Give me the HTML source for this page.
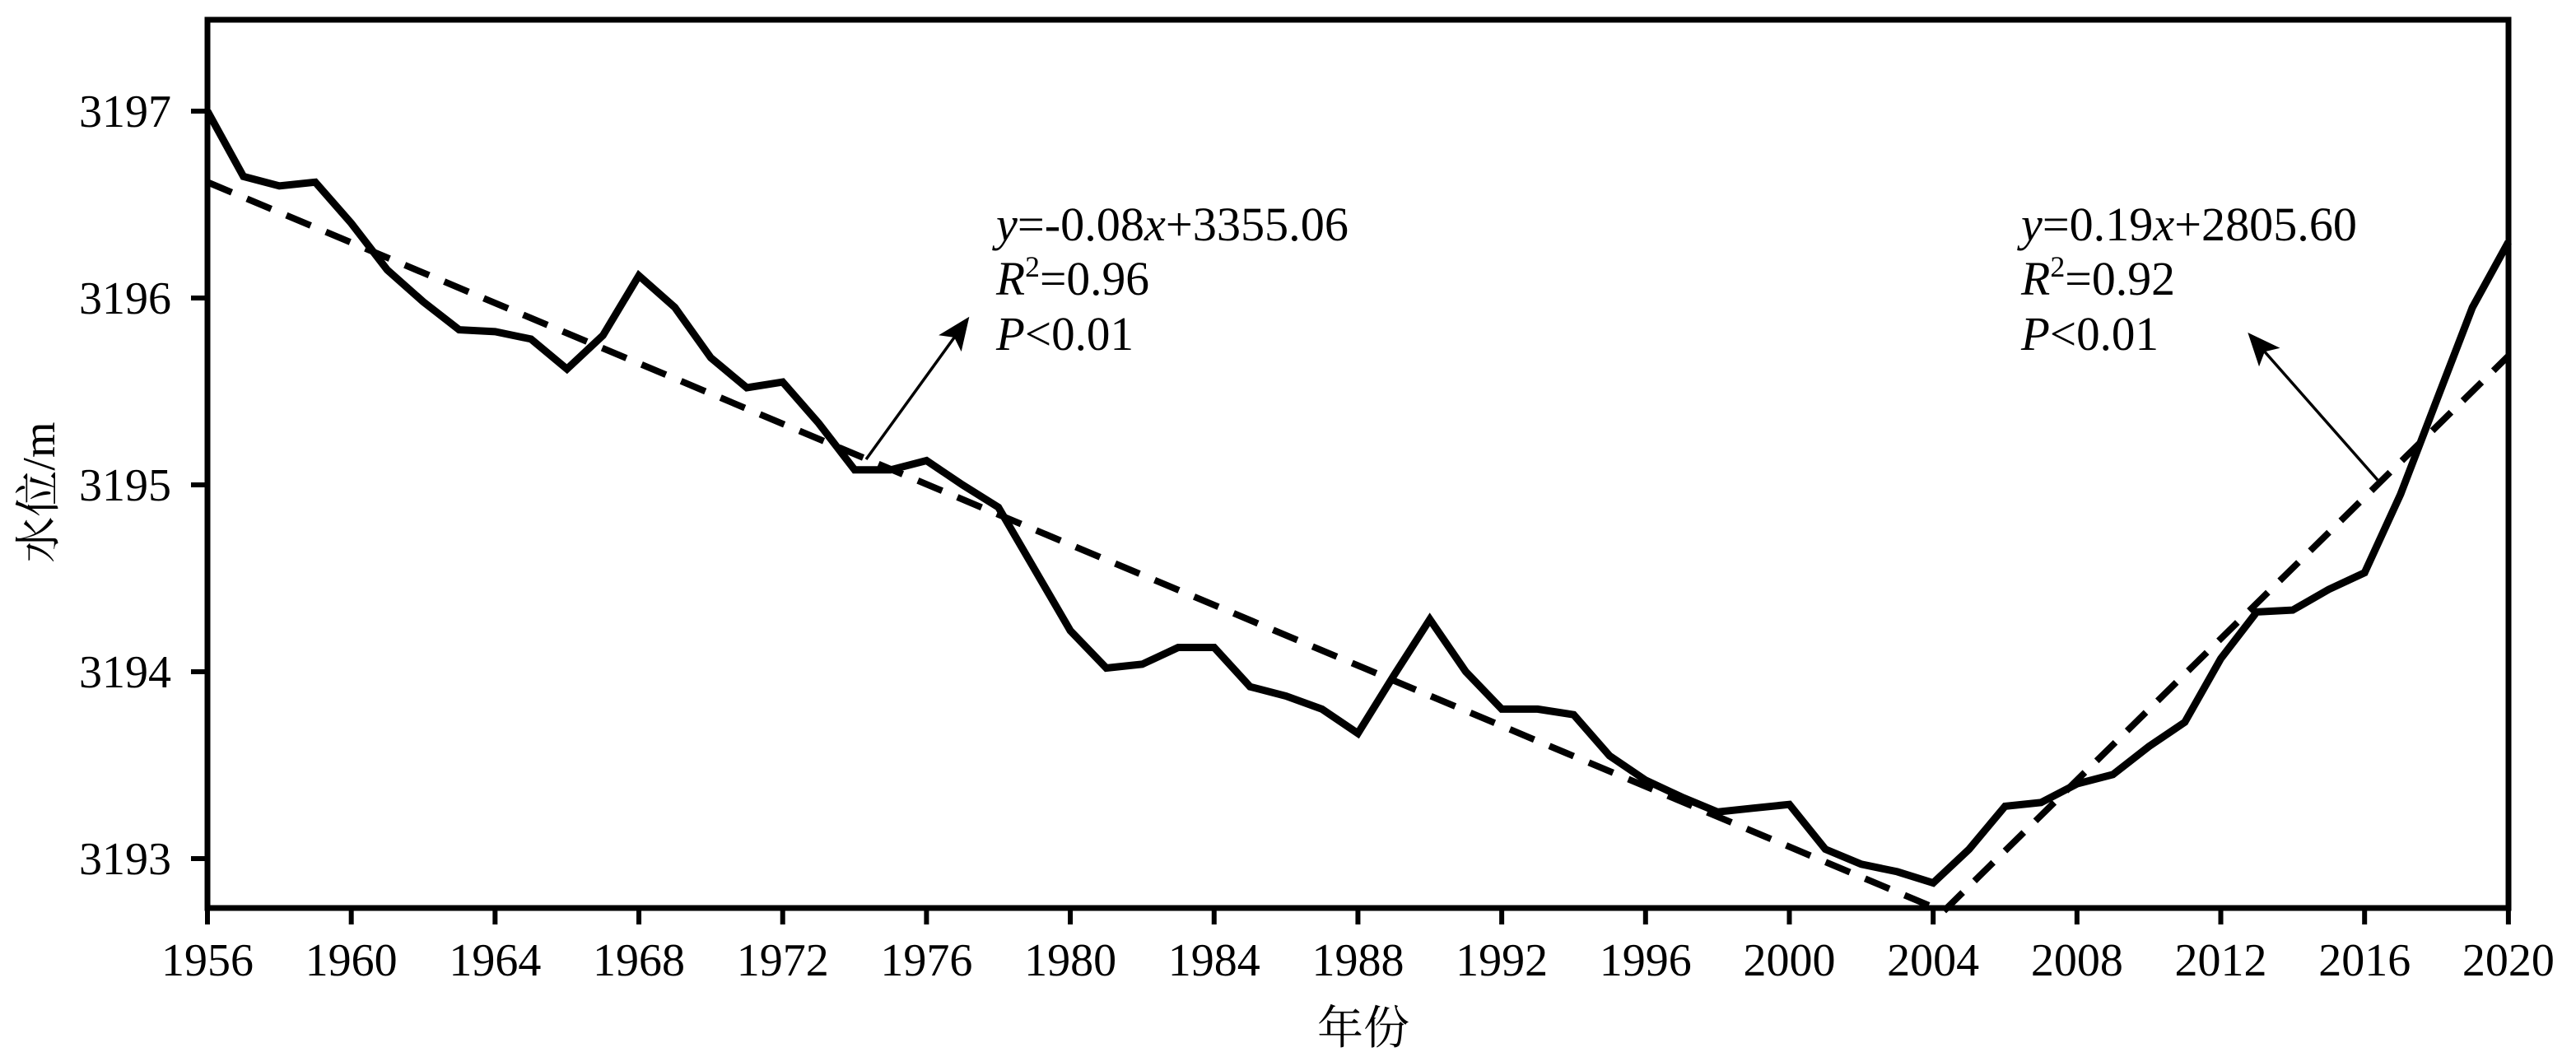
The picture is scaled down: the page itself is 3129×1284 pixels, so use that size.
<!DOCTYPE html>
<html><head><meta charset="utf-8"><style>
html,body{margin:0;padding:0;background:#fff;}
svg{display:block;}
text{font-family:"Liberation Serif","Noto Serif CJK SC",serif;fill:#000;}
</style></head><body>
<svg id="s" width="3129" height="1284" viewBox="0 0 3129 1284" xmlns="http://www.w3.org/2000/svg">
<defs>
<marker id="ah2" markerWidth="40" markerHeight="34" refX="36" refY="17" orient="auto" markerUnits="userSpaceOnUse"><path d="M0,0 L40,17 L0,34 L9,17 z" fill="#000"/></marker></defs>
<g id="data"></g>
<rect x="252" y="24" width="2795" height="1079" fill="none" stroke="#000" stroke-width="7"/>
<g id="ticks" stroke="#000" stroke-width="6"></g>
<g font-size="56" text-anchor="end">
<text x="208" y="154">3197</text>
<text x="208" y="381">3196</text>
<text x="208" y="608">3195</text>
<text x="208" y="835">3194</text>
<text x="208" y="1062">3193</text>
</g>
<g id="xl" font-size="56" text-anchor="middle"></g>
<text x="1656" y="1268" font-size="56" text-anchor="middle">年份</text>
<text transform="translate(66,598) rotate(-90)" font-size="56" text-anchor="middle">水位/m</text>
<g font-size="58">
<text x="1210" y="292" textLength="428" lengthAdjust="spacingAndGlyphs"><tspan font-style="italic">y</tspan>=-0.08<tspan font-style="italic">x</tspan>+3355.06</text>
<text x="1210" y="358" textLength="186" lengthAdjust="spacingAndGlyphs"><tspan font-style="italic">R</tspan><tspan font-size="36" dy="-22">2</tspan><tspan dy="22">=0.96</tspan></text>
<text x="1210" y="425" textLength="167" lengthAdjust="spacingAndGlyphs"><tspan font-style="italic">P</tspan>&lt;0.01</text>
<text x="2455" y="292" textLength="408" lengthAdjust="spacingAndGlyphs"><tspan font-style="italic">y</tspan>=0.19<tspan font-style="italic">x</tspan>+2805.60</text>
<text x="2455" y="358" textLength="187" lengthAdjust="spacingAndGlyphs"><tspan font-style="italic">R</tspan><tspan font-size="36" dy="-22">2</tspan><tspan dy="22">=0.92</tspan></text>
<text x="2455" y="425" textLength="167" lengthAdjust="spacingAndGlyphs"><tspan font-style="italic">P</tspan>&lt;0.01</text>
</g>
<line x1="1052" y1="558" x2="1175" y2="388" stroke="#000" stroke-width="3.5" marker-end="url(#ah2)"/>
<line x1="2888" y1="583" x2="2733" y2="407" stroke="#000" stroke-width="3.5" marker-end="url(#ah2)"/>
</svg>
<script>
var v=[3197.0,3196.65,3196.6,3196.62,3196.4,3196.15,3195.98,3195.83,3195.82,3195.78,3195.62,3195.8,3196.12,3195.95,3195.68,3195.52,3195.55,3195.33,3195.08,3195.08,3195.13,3195.0,3194.88,3194.55,3194.22,3194.02,3194.04,3194.13,3194.13,3193.92,3193.87,3193.8,3193.67,3193.98,3194.28,3194.0,3193.8,3193.8,3193.77,3193.55,3193.42,3193.33,3193.25,3193.27,3193.29,3193.05,3192.97,3192.93,3192.87,3193.05,3193.28,3193.3,3193.4,3193.45,3193.6,3193.73,3194.07,3194.32,3194.33,3194.44,3194.53,3194.95,3195.45,3195.95,3196.3];
function X(y){return 252+(y-1956)*43.67;}function Y(a){return 135+(3197-a)*227;}
var ns="http://www.w3.org/2000/svg";
function el(t,a,p){var e=document.createElementNS(ns,t);for(var k in a)e.setAttribute(k,a[k]);p.appendChild(e);return e;}
var d=document.getElementById('data');
var pts=v.map(function(a,i){return X(1956+i).toFixed(1)+","+Y(a).toFixed(1);}).join(" ");
el('line',{x1:X(1956),y1:Y(3196.62),x2:X(2004),y2:Y(3192.74),stroke:"#000","stroke-width":8,"stroke-dasharray":"32 20"},d);
el('line',{x1:X(2004.3),y1:Y(3192.72),x2:X(2020),y2:Y(3195.69),stroke:"#000","stroke-width":8,"stroke-dasharray":"32 20"},d);
el('polyline',{points:pts,fill:"none",stroke:"#000","stroke-width":9,"stroke-linejoin":"miter"},d);
var t=document.getElementById('ticks'),xl=document.getElementById('xl');
for(var y=1956;y<=2020;y+=4){el('line',{x1:X(y),y1:1103,x2:X(y),y2:1123},t);var tx=el('text',{x:X(y),y:1185},xl);tx.textContent=y;}
for(var k=0;k<5;k++){el('line',{x1:232,y1:135+227*k,x2:252,y2:135+227*k},t);}
</script>
</body></html>
